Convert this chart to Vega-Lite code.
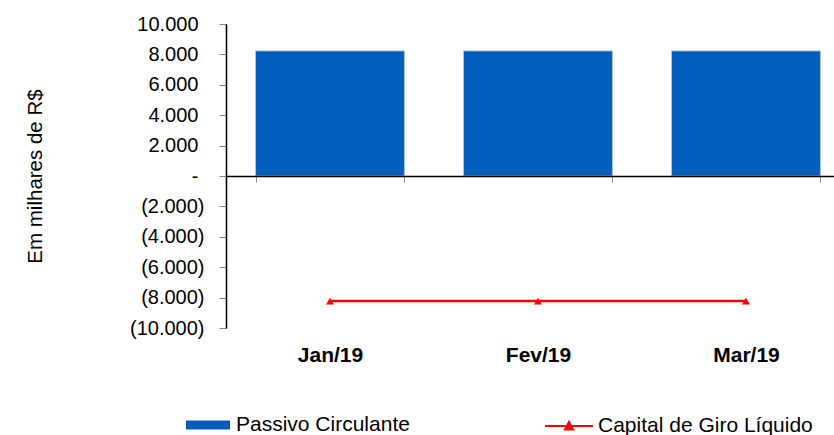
{
  "$schema": "https://vega.github.io/schema/vega-lite/v6.json",
  "width": 608,
  "height": 304,
  "autosize": "none",
  "padding": {"left": 226, "top": 24, "right": 0, "bottom": 107},
  "background": "white",
  "config": {
    "view": {"stroke": null},
    "font": "Liberation Sans",
    "axisY": {
      "labelFont": "Liberation Sans",
      "labelFontSize": 20,
      "labelColor": "black",
      "tickSize": 7,
      "tickColor": "#888888",
      "domainColor": "black",
      "domainWidth": 1.3,
      "grid": false,
      "zindex": 1
    }
  },
  "datasets": {
    "passivo": [
      {"mes": "Jan/19", "serie": "Passivo Circulante", "valor": 8230},
      {"mes": "Fev/19", "serie": "Passivo Circulante", "valor": 8230},
      {"mes": "Mar/19", "serie": "Passivo Circulante", "valor": 8230}
    ],
    "capital": [
      {"mes": "Jan/19", "serie": "Capital de Giro Líquido", "valor": -8230},
      {"mes": "Fev/19", "serie": "Capital de Giro Líquido", "valor": -8230},
      {"mes": "Mar/19", "serie": "Capital de Giro Líquido", "valor": -8230}
    ]
  },
  "encoding": {
    "x": {
      "field": "mes",
      "type": "nominal",
      "sort": ["Jan/19", "Fev/19", "Mar/19"],
      "scale": {"range": [0, 624], "paddingInner": 0.284, "paddingOuter": 0.142},
      "axis": {
        "title": null,
        "orient": "bottom",
        "offset": -152,
        "zindex": 1,
        "domainColor": "black",
        "domainWidth": 1.5,
        "tickColor": "#888888",
        "tickSize": 6,
        "tickWidth": 1,
        "tickBand": "extent",
        "labelAngle": 0,
        "labelPadding": 162,
        "labelFont": "Liberation Sans",
        "labelFontSize": 21,
        "labelFontWeight": "bold",
        "labelColor": "black"
      }
    }
  },
  "resolve": {"axis": {"y": "independent"}},
  "layer": [
    {
      "data": {"name": "passivo"},
      "mark": {"type": "bar", "stroke": "#a9c4e4", "strokeWidth": 1},
      "encoding": {
        "y": {
          "field": "valor",
          "type": "quantitative",
          "scale": {"domain": [-10000, 10000], "nice": false},
          "axis": {
            "orient": "left",
            "title": "Em milhares de R$",
            "titleFont": "Liberation Sans",
            "titleFontSize": 20.5,
            "titleFontWeight": "normal",
            "titleColor": "black",
            "titlePadding": 91,
            "values": [0, 2000, 4000, 6000, 8000, 10000],
            "labelExpr": "datum.value == 0 ? '-' : replace(format(datum.value, ',.0f'), ',', '.')",
            "labelPadding": 21
          }
        },
        "fill": {
          "field": "serie",
          "type": "nominal",
          "scale": {"range": ["#005db9"]},
          "legend": {
            "title": null,
            "orient": "none",
            "legendX": -40,
            "legendY": 379,
            "padding": 0,
            "symbolType": "M-1,-0.2H1V0.2H-1Z",
            "symbolSize": 1936,
            "symbolStrokeWidth": 0,
            "labelFont": "Liberation Sans",
            "labelFontSize": 21,
            "labelColor": "black",
            "labelOffset": 6,
            "labelLimit": 0
          }
        }
      }
    },
    {
      "data": {"name": "capital"},
      "mark": {"type": "line", "strokeWidth": 2.5},
      "encoding": {
        "y": {
          "field": "valor",
          "type": "quantitative",
          "scale": {"domain": [-10000, 10000], "nice": false},
          "axis": {
            "orient": "left",
            "title": null,
            "values": [-10000, -8000, -6000, -4000, -2000],
            "labelExpr": "'(' + replace(format(-datum.value, ',.0f'), ',', '.') + ')'",
            "labelPadding": 15
          }
        },
        "stroke": {
          "field": "serie",
          "type": "nominal",
          "scale": {"range": ["#ff0000"]},
          "legend": {
            "title": null,
            "orient": "none",
            "legendX": 318,
            "legendY": 377,
            "padding": 0,
            "symbolType": "M-1,0H1M-0.17,0.15L0.17,0.15L0,-0.17Z",
            "symbolSize": 2304,
            "symbolStrokeWidth": 2,
            "symbolFillColor": "#ff0000",
            "labelFont": "Liberation Sans",
            "labelFontSize": 21,
            "labelColor": "black",
            "labelOffset": 4,
            "labelLimit": 0
          }
        }
      }
    },
    {
      "data": {"name": "capital"},
      "mark": {"type": "point", "shape": "triangle-up", "filled": true, "size": 64, "color": "#ff0000", "opacity": 1},
      "encoding": {
        "y": {
          "field": "valor",
          "type": "quantitative",
          "scale": {"domain": [-10000, 10000], "nice": false},
          "axis": null
        }
      }
    }
  ]
}
